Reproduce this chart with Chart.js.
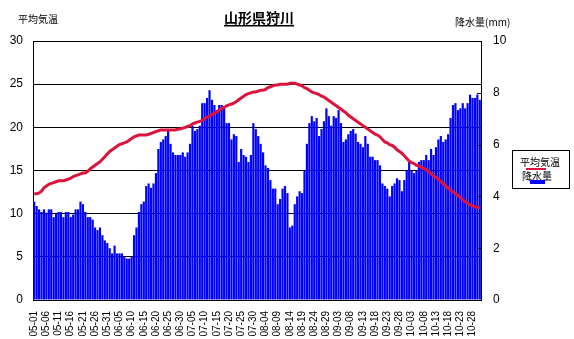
<!DOCTYPE html>
<html>
<head>
<meta charset="utf-8">
<title>山形県狩川</title>
<script src="https://cdn.jsdelivr.net/npm/chart.js@4.4.1/dist/chart.umd.min.js"></script>
<style>
  body { margin: 0; background: #fff; }
  #chart { display: block; }
</style>
</head>
<body>
<canvas id="chart" width="574" height="339"></canvas>
<script>
const title = '山形県狩川'
const leftTitle = '平均気温'
const rightTitle = '降水量(mm)'

// month, number of days (May 1 - Oct 31)
const months = [['05', 31], ['06', 30], ['07', 31], ['08', 31], ['09', 30], ['10', 31]]

// daily mean temperature (℃)
const temps = [
    12.3, 12.3, 12.4, 12.6, 13.0, 13.2, 13.4, 13.5, 13.6, 13.7,
    13.8, 13.8, 13.8, 13.9, 14.0, 14.1, 14.3, 14.4, 14.5, 14.6,
    14.7, 14.7, 14.9, 15.2, 15.4, 15.6, 15.8, 16.0, 16.3, 16.6,
    16.9, 17.2, 17.4, 17.6, 17.8, 18.0, 18.1, 18.2, 18.3, 18.5,
    18.7, 18.9, 19.0, 19.1, 19.1, 19.1, 19.1, 19.2, 19.3, 19.4,
    19.5, 19.6, 19.7, 19.7, 19.7, 19.7, 19.7, 19.7, 19.7, 19.8,
    19.8, 19.9, 20.0, 20.1, 20.2, 20.4, 20.5, 20.6, 20.7, 20.8,
    21.0, 21.2, 21.3, 21.5, 21.6, 21.8, 22.0, 22.2, 22.3, 22.5,
    22.6, 22.7, 22.8, 23.0, 23.2, 23.4, 23.6, 23.8, 23.9, 24.0,
    24.1, 24.1, 24.2, 24.3, 24.3, 24.4, 24.6, 24.7, 24.8, 24.9,
    24.9, 25.0, 25.0, 25.0, 25.0, 25.1, 25.1, 25.1, 25.0, 24.9,
    24.8, 24.6, 24.5, 24.3, 24.1, 24.0, 23.9, 23.8, 23.6, 23.5,
    23.3, 23.1, 22.9, 22.7, 22.5, 22.3, 22.1, 21.9, 21.7, 21.4,
    21.2, 21.0, 20.8, 20.6, 20.4, 20.2, 20.0, 19.8, 19.6, 19.4,
    19.2, 19.1, 18.9, 18.6, 18.3, 18.2, 18.0, 17.9, 17.7, 17.4,
    17.2, 17.0, 16.7, 16.4, 16.1, 15.9, 15.8, 15.6, 15.5, 15.4,
    15.2, 15.1, 14.9, 14.6, 14.4, 14.2, 14.0, 13.7, 13.5, 13.2,
    13.0, 12.7, 12.5, 12.3, 12.1, 11.9, 11.6, 11.4, 11.2, 11.0,
    10.9, 10.8, 10.7, 10.7
]

// daily precipitation (mm)
const rain = [
    3.80, 3.63, 3.50, 3.40, 3.50, 3.37, 3.50, 3.50, 3.20, 3.33,
    3.40, 3.40, 3.20, 3.40, 3.40, 3.20, 3.30, 3.50, 3.50, 3.80,
    3.70, 3.40, 3.20, 3.20, 3.10, 2.80, 2.70, 2.80, 2.50, 2.30,
    2.20, 2.00, 1.80, 2.10, 1.80, 1.80, 1.80, 1.67, 1.60, 1.60,
    1.67, 2.50, 2.80, 3.40, 3.70, 3.80, 4.40, 4.50, 4.33, 4.50,
    4.90, 5.83, 6.10, 6.20, 6.33, 6.53, 6.03, 5.70, 5.60, 5.60,
    5.60, 5.70, 5.53, 5.70, 6.03, 6.73, 6.53, 6.60, 6.73, 7.60,
    7.60, 7.80, 8.10, 7.73, 7.53, 7.33, 7.53, 7.53, 7.40, 6.83,
    6.83, 6.20, 6.40, 6.33, 5.33, 5.83, 5.60, 5.53, 5.33, 5.60,
    6.83, 6.60, 6.33, 6.03, 5.70, 5.20, 5.10, 4.63, 4.30, 4.30,
    3.70, 3.90, 4.30, 4.40, 4.13, 2.80, 2.87, 3.70, 4.00, 4.20,
    4.13, 5.00, 6.03, 6.83, 7.10, 6.90, 7.03, 6.33, 6.60, 6.90,
    7.40, 7.10, 6.73, 7.10, 7.03, 7.33, 6.83, 6.10, 6.20, 6.40,
    6.53, 6.60, 6.43, 6.10, 6.03, 5.90, 6.33, 6.03, 5.53, 5.53,
    5.40, 5.40, 5.20, 4.50, 4.40, 4.30, 4.00, 4.40, 4.50, 4.70,
    4.63, 4.20, 4.63, 5.00, 5.33, 5.00, 4.90, 5.00, 5.33, 5.40,
    5.40, 5.60, 5.40, 5.83, 5.60, 5.90, 6.20, 6.33, 6.10, 6.20,
    6.40, 7.03, 7.53, 7.60, 7.33, 7.40, 7.60, 7.40, 7.60, 7.93,
    7.80, 7.80, 7.93, 7.73
]

const days = []
for (const [m, n] of months) {
    for (let d = 1; d <= n; d++) {
        days.push(m + '-' + String(d).padStart(2, '0'))
    }
}

const jp = '"Noto Sans CJK JP", sans-serif'
const num = '"Liberation Sans", Arial, sans-serif'

const decorations = {
    id: 'decorations',
    afterDraw(chart) {
        const ctx = chart.ctx
        const area = chart.chartArea
        const y1 = chart.scales.y1
        ctx.save()

        // short inner ticks on the right axis
        ctx.strokeStyle = '#000'
        ctx.lineWidth = 1
        y1.ticks.forEach(t => {
            const py = Math.round(y1.getPixelForValue(t.value)) + 0.5
            ctx.beginPath()
            ctx.moveTo(area.right - 4, py)
            ctx.lineTo(area.right, py)
            ctx.stroke()
        })

        ctx.fillStyle = '#000'
        ctx.textBaseline = 'middle'

        ctx.font = 'bold 14px ' + jp
        ctx.textAlign = 'center'
        ctx.fillText(title, 259, 18)
        const tw = ctx.measureText(title).width
        ctx.fillRect(259 - tw / 2, 25, tw, 1.5)

        ctx.font = '10px ' + jp
        ctx.textAlign = 'left'
        ctx.fillText(leftTitle, 18, 19)
        ctx.fillText(rightTitle, 455, 22)

        // legend
        ctx.strokeRect(512.5, 150.5, 57, 38)
        ctx.textAlign = 'center'
        ctx.fillText(chart.data.datasets[0].label, 540, 162)
        ctx.fillStyle = chart.data.datasets[0].borderColor
        ctx.fillRect(526, 168, 20, 2)
        ctx.fillStyle = '#000'
        ctx.fillText(chart.data.datasets[1].label, 537, 176)
        ctx.fillStyle = chart.data.datasets[1].backgroundColor
        ctx.fillRect(530, 180, 15, 4)

        ctx.restore()
    }
}

const chart = new Chart(
    document.getElementById('chart'),
    {
        type: 'bar',
        data: {
            labels: days,
            datasets: [
                {
                    type: 'line',
                    label: '平均気温',
                    data: temps,
                    yAxisID: 'y',
                    borderColor: '#dc143c',
                    borderWidth: 3,
                    pointRadius: 0,
                    tension: 0,
                    order: 0
                },
                {
                    type: 'bar',
                    label: '降水量',
                    data: rain,
                    yAxisID: 'y1',
                    backgroundColor: '#0000ff',
                    barPercentage: 0.9,
                    categoryPercentage: 1,
                    order: 1
                }
            ]
        },
        options: {
            responsive: false,
            animation: false,
            devicePixelRatio: 1,
            layout: {
                padding: { top: 41, left: 0, right: 0, bottom: 0 }
            },
            plugins: {
                legend: { display: false },
                tooltip: { enabled: false }
            },
            scales: {
                x: {
                    grid: { display: false },
                    border: { color: '#000' },
                    ticks: {
                        autoSkip: false,
                        minRotation: 90,
                        maxRotation: 90,
                        padding: 3,
                        color: '#000',
                        font: { family: num, size: 10 },
                        callback: (v, i) => i % 5 === 0 ? days[i] : null
                    },
                    afterFit: s => { s.height = 39 }
                },
                y: {
                    position: 'left',
                    min: 0,
                    max: 30,
                    z: 1,
                    ticks: { stepSize: 5, padding: 10, color: '#000', font: { family: num, size: 12 } },
                    grid: { color: '#000', drawTicks: false },
                    border: { color: '#000' },
                    afterFit: s => { s.width = 33 }
                },
                y1: {
                    position: 'right',
                    min: 0,
                    max: 10,
                    ticks: { stepSize: 2, padding: 12, color: '#000', font: { family: num, size: 12 } },
                    grid: { drawOnChartArea: false, drawTicks: false },
                    border: { color: '#000' },
                    afterFit: s => { s.width = 93 }
                }
            }
        },
        plugins: [decorations]
    }
)
</script>
</body>
</html>
